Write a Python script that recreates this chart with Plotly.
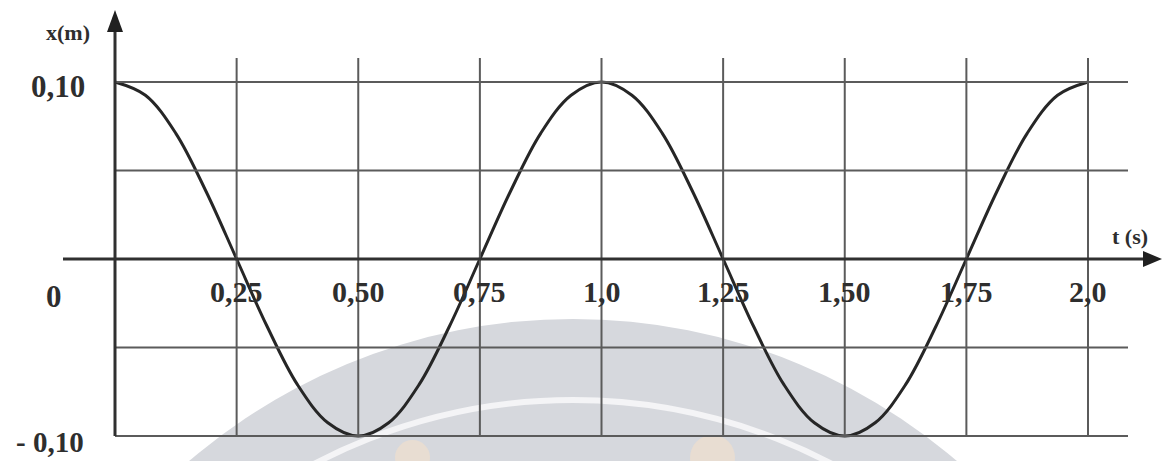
import plotly.graph_objects as go

# displacement x(m) every 1/16 s
t_vals = [i / 16 for i in range(33)]
x_vals = [0.10, 0.0925, 0.071, 0.038, 0.0, -0.038, -0.071, -0.0925, -0.10,
          -0.0925, -0.071, -0.038, 0.0, 0.038, 0.071, 0.0925, 0.10,
          0.0925, 0.071, 0.038, 0.0, -0.038, -0.071, -0.0925, -0.10,
          -0.0925, -0.071, -0.038, 0.0, 0.038, 0.071, 0.0925, 0.10]

# grid and labels
t_grid = [0, 0.25, 0.5, 0.75, 1.0, 1.25, 1.5, 1.75, 2.0]
t_ticks = [0.25, 0.5, 0.75, 1.0, 1.25, 1.5, 1.75, 2.0]
t_labels = ["0,25", "0,50", "0,75", "1,0", "1,25", "1,50", "1,75", "2,0"]
x_grid = [0.10, 0.05, -0.05, -0.10]
x_ticks = [0.10, 0.0, -0.10]
x_labels = ["0,10", "0", "- 0,10"]

W, H = 1162, 461
# pixel mapping of the scanned figure
T0_PX, T2_PX = 115, 1088
SX = (T2_PX - T0_PX) / 2.0
Y0_PX, SY = 259, 1770.0


def dx(px):
    return (px - T0_PX) / SX


def dy(py):
    return (Y0_PX - py) / SY


GRID = "#5b5b5b"
INK = "#262626"
TXT = "#2e2e2e"
FONT = "Liberation Serif"

fig = go.Figure()

# faint watermark behind the chart
fig.add_shape(type="circle", xref="paper", yref="paper", layer="below",
              x0=(573 - 590) / W, x1=(573 + 590) / W,
              y0=1 - (909 + 590) / H, y1=1 - (909 - 590) / H,
              fillcolor="#d6d8dd", line=dict(width=0))
fig.add_shape(type="circle", xref="paper", yref="paper", layer="below",
              x0=(573 - 556) / W, x1=(573 + 556) / W,
              y0=1 - (956 + 556) / H, y1=1 - (956 - 556) / H,
              fillcolor="rgba(0,0,0,0)", line=dict(width=6, color="#f4f4f6"))
fig.add_shape(type="circle", xref="paper", yref="paper", layer="below",
              x0=690 / W, x1=735 / W, y0=1 - 480 / H, y1=1 - 435 / H,
              fillcolor="#e8ddd2", line=dict(width=0))
fig.add_shape(type="circle", xref="paper", yref="paper", layer="below",
              x0=395 / W, x1=430 / W, y0=1 - 475 / H, y1=1 - 440 / H,
              fillcolor="#e8ddd2", line=dict(width=0))

# vertical grid lines
for t in t_grid[1:]:
    fig.add_shape(type="line", x0=t, x1=t, y0=-0.10, y1=dy(58),
                  line=dict(color=GRID, width=2))
# horizontal grid lines
for v in x_grid:
    fig.add_shape(type="line", x0=0, x1=dx(1128), y0=v, y1=v,
                  line=dict(color=GRID, width=2))

# axes
fig.add_shape(type="line", x0=dx(63), x1=dx(1148), y0=0, y1=0,
              line=dict(color="#303030", width=3))
fig.add_shape(type="line", x0=0, x1=0, y0=-0.10, y1=dy(26),
              line=dict(color="#303030", width=3))
# arrow heads
fig.add_shape(type="path", line=dict(width=0), fillcolor="#202020",
              path=f"M {dx(1143)} {dy(251)} L {dx(1162)} {dy(259)} L {dx(1143)} {dy(267)} Z")
fig.add_shape(type="path", line=dict(width=0), fillcolor="#202020",
              path=f"M {dx(107)} {dy(32)} L {dx(115)} {dy(10)} L {dx(123)} {dy(32)} Z")

# displacement curve
fig.add_trace(go.Scatter(x=t_vals, y=x_vals, mode="lines",
                         line=dict(color=INK, width=3, shape="spline", smoothing=1.0),
                         hoverinfo="skip"))

# time tick labels
for t, lab in zip(t_ticks, t_labels):
    fig.add_annotation(x=t, y=dy(291), text=f"<b>{lab}</b>", showarrow=False,
                       font=dict(family=FONT, size=30, color=TXT),
                       xanchor="center", yanchor="middle")

# displacement tick labels
y_label_px = {0.10: (58, 86), 0.0: (54, 296), -0.10: (50, 442)}
for v, lab in zip(x_ticks, x_labels):
    px, py = y_label_px[v]
    fig.add_annotation(x=dx(px), y=dy(py), text=f"<b>{lab}</b>", showarrow=False,
                       font=dict(family=FONT, size=29 if v < 0 else 31, color=TXT),
                       xanchor="center", yanchor="middle", borderpad=0)

# axis titles
fig.add_annotation(x=dx(68), y=dy(32), text="<b>x(m)</b>", showarrow=False,
                   font=dict(family=FONT, size=22, color=TXT),
                   xanchor="center", yanchor="middle")
fig.add_annotation(x=dx(1130), y=dy(236), text="<b>t (s)</b>", showarrow=False,
                   font=dict(family=FONT, size=22, color=TXT),
                   xanchor="center", yanchor="middle")

fig.update_layout(
    width=W, height=H,
    margin=dict(l=0, r=0, t=0, b=0),
    plot_bgcolor="white", paper_bgcolor="white",
    showlegend=False,
    xaxis=dict(range=[dx(0), dx(W)], visible=False, fixedrange=True),
    yaxis=dict(range=[dy(H), dy(0)], visible=False, fixedrange=True),
)

fig.write_html("out.html", config={"displayModeBar": False},
               post_script="document.body.style.margin='0';document.body.style.overflow='hidden';")
